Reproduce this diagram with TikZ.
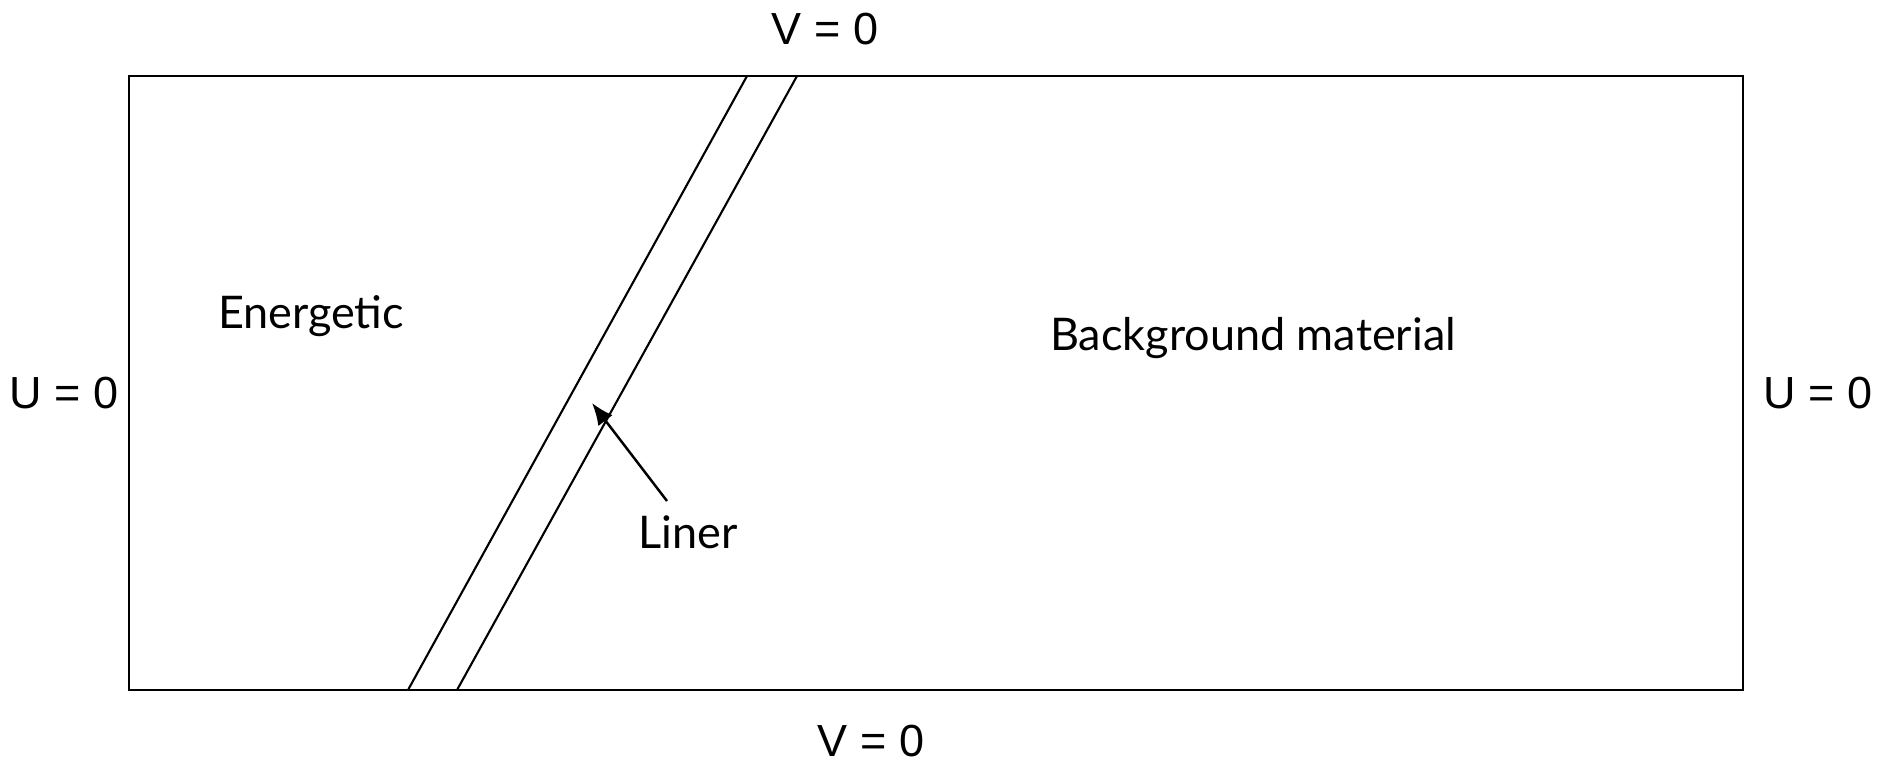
\documentclass[tikz,border=0pt]{standalone}
\usepackage{fontspec}
\setmainfont{Lato}
\newfontfamily\bcfont{Liberation Sans}
\usetikzlibrary{positioning,arrows.meta}
\tikzset{
  regionlabel/.style={inner sep=0pt, font=\fontsize{12.8}{15}\selectfont},
  bclabel/.style={inner sep=0pt, text depth=0pt, font=\bcfont\fontsize{12.8}{15}\selectfont},
  wallstyle/.style={line width=0.8pt},
  linerstyle/.style={line width=0.6pt},
  arrowstyle/.style={-{Latex[length=2.2mm,width=1.8mm]}, line width=0.7pt}
}
\begin{document}
\begin{tikzpicture}
  \useasboundingbox (0,0) rectangle (18.8,-7.65);
  % domain
  \coordinate (nw) at (1.29,-0.76);
  \coordinate (se) at (17.43,-6.90);
  \draw[wallstyle] (nw) rectangle (se);
  % liner
  \coordinate (linerTL) at (7.47,-0.76);
  \coordinate (linerTR) at (7.97,-0.76);
  \coordinate (linerBL) at (4.08,-6.90);
  \coordinate (linerBR) at (4.57,-6.90);
  \draw[linerstyle] (linerTL) -- (linerBL);
  \draw[linerstyle] (linerTR) -- (linerBR);
  % labels
  \node[regionlabel] (energetic) at (3.11,-3.16) {Energetic};
  \node[regionlabel] (background) at (12.53,-3.38) {Background material};
  \node[regionlabel] (liner) at (6.88,-5.32) {Liner};
  \node[bclabel] (vtop) at (8.25,-0.29) {V = 0};
  \node[bclabel, anchor=base] (vbot) at (8.71,-7.56) {V = 0};
  \node[bclabel] (uleft) at (0.64,-3.93) {U = 0};
  \node[bclabel] (uright) at (18.18,-3.93) {U = 0};
  % pointer
  \coordinate (tail) at (6.67,-5.01);
  \coordinate (tip) at (5.92,-4.03);
  \draw[arrowstyle] (tail) -- (tip);
\end{tikzpicture}
\end{document}
